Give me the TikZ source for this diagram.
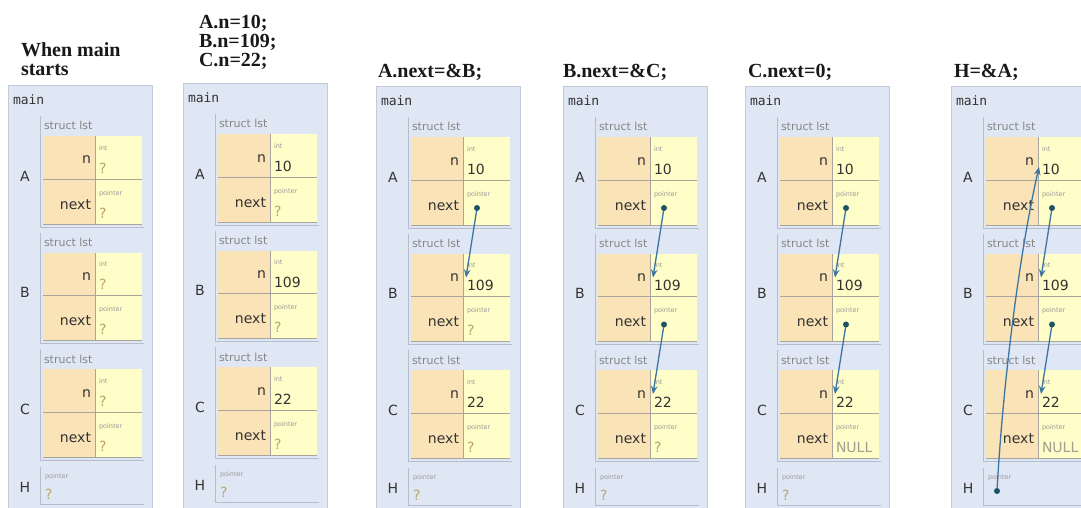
\documentclass[tikz,border=0pt]{standalone}
\usepackage{fontspec}
\setmainfont{Liberation Serif}
\newfontfamily\vsans{DejaVu Sans}
\newfontfamily\vmono{DejaVu Sans Mono}
\usetikzlibrary{arrows.meta}
\definecolor{mainbg}{HTML}{E0E7F4}
\definecolor{mainbd}{HTML}{C3CBDA}
\definecolor{structbd}{HTML}{B5BDCB}
\definecolor{namebg}{HTML}{FAE3B6}
\definecolor{valbg}{HTML}{FFFDC8}
\definecolor{cellbd}{HTML}{A8A69C}
\definecolor{txtdark}{HTML}{333333}
\definecolor{lblcol}{HTML}{858585}
\definecolor{typcol}{HTML}{9A9A9A}
\definecolor{qcol}{HTML}{B8A66C}
\definecolor{nullcol}{HTML}{A09F90}
\definecolor{arrcol}{HTML}{3C75A3}
\definecolor{dotcol}{HTML}{1E5366}
\newcommand{\qm}{\textcolor{qcol}{?}}
\newcommand{\nul}{\textcolor{nullcol}{NULL}}
\tikzset{
  boxbase/.style={inner sep=0pt, outer sep=0pt, line width=0.8pt},
  mainbox/.style={boxbase, draw=mainbd, fill=mainbg, minimum width=144pt, minimum height=440pt},
  structbox/.style={boxbase, minimum width=104pt, minimum height=111pt},
  hbox/.style={boxbase, minimum width=104pt, minimum height=37pt},
  boxline/.style={draw=structbd, line width=0.9pt},
  cellline/.style={draw=cellbd, line width=0.8pt},
  namecell/.style={boxbase, fill=namebg, minimum width=52pt, minimum height=43pt},
  valcell/.style={boxbase, fill=valbg, minimum width=47pt, minimum height=43pt},
  txt/.style={inner sep=0pt, outer sep=0pt},
  hdr/.style={txt, anchor=base west, font=\bfseries\fontsize{20}{20}\selectfont, text=black!90},
  monolbl/.style={txt, anchor=base west, font=\vmono\fontsize{13}{15}\selectfont, text=txtdark},
  lbl/.style={txt, anchor=base west, font=\vsans\fontsize{11}{13}\selectfont, text=lblcol},
  fld/.style={txt, anchor=base east, font=\vsans\fontsize{14}{16}\selectfont, text=txtdark},
  typ/.style={txt, anchor=base west, font=\vsans\fontsize{6.5}{8}\selectfont, text=typcol},
  val/.style={txt, anchor=base west, font=\vsans\fontsize{14}{16}\selectfont, text=txtdark},
  letter/.style={txt, anchor=base, font=\vsans\fontsize{14}{16}\selectfont, text=txtdark},
  ptr/.style={draw=arrcol, line width=1.3pt, -{Stealth[length=8pt,width=6.5pt]}},
  ptrdot/.style={circle, fill=dotcol, inner sep=0pt, minimum size=6pt},
}
% #1 id, #2 L, #3 T
\newcommand{\mymain}[3]{%
  \node[mainbox, anchor=north west] (#1) at (#2,#3) {};
  \node[monolbl] (#1-lbl) at (#2+5,#3+20) {main};
}
% #1 id, #2 L, #3 St, #4 letter, #5 n value, #6 next value
\newcommand{\mystruct}[6]{%
  \node[structbox, anchor=north west] (#1) at (#2+32,#3) {};
  \draw[boxline] (#1.north west) -- (#1.south west) -- (#1.south east);
  \node[lbl] (#1-lbl) at (#2+36,#3+14) {struct lst};
  \node[letter] (#1-let) at (#2+17,#3+65) {#4};
  \node[namecell, anchor=north west] (#1-nn) at (#2+35,#3+20) {};
  \node[valcell, anchor=north west] (#1-nv) at (#2+87,#3+20) {};
  \node[namecell, minimum height=45pt, anchor=north west] (#1-xn) at (#2+35,#3+63) {};
  \node[valcell, minimum height=45pt, anchor=north west] (#1-xv) at (#2+87,#3+63) {};
  \draw[cellline] (#1-nv.north west) -- (#1-xv.south west);
  \draw[cellline] (#1-nn.south west) -- (#1-nv.south east);
  \draw[cellline] (#1-xn.south west) -- (#1-xv.south east);
  \node[fld] (#1-nnt) at (#2+83,#3+48) {n};
  \node[fld] (#1-xnt) at (#2+83,#3+93) {next};
  \node[typ] (#1-nty) at (#2+91,#3+34) {int};
  \node[typ] (#1-xty) at (#2+91,#3+79) {pointer};
  \node[val] (#1-nval) at (#2+91,#3+57) {#5};
  \node[val] (#1-xval) at (#2+91,#3+102) {#6};
  \coordinate (#1-dot) at (#2+101,#3+91);
  \coordinate (#1-tip) at (#2+90,#3+44);
  \coordinate (#1-htip) at (#2+88,#3+50);
}
% #1 id, #2 L, #3 T, #4 value
\newcommand{\myhbox}[4]{%
  \node[hbox, anchor=north west] (#1) at (#2+32,#3+382) {};
  \draw[boxline] (#1.north west) -- (#1.south west) -- (#1.south east);
  \node[letter] (#1-let) at (#2+17,#3+407) {H};
  \node[typ] (#1-ty) at (#2+37,#3+393) {pointer};
  \node[val] (#1-val) at (#2+37,#3+414) {#4};
  \coordinate (#1-dot) at (#2+46,#3+405);
}
% #1 id, #2 L, #3 T, #4 An, #5 Anext, #6 Bn, #7 Bnext, #8 Cn, #9 Cnext
\newcommand{\mypanel}[9]{%
  \mymain{#1}{#2}{#3}
  \mystruct{#1a}{#2}{#3+31}{A}{#4}{#5}
  \mystruct{#1b}{#2}{#3+147.5}{B}{#6}{#7}
  \mystruct{#1c}{#2}{#3+264}{C}{#8}{#9}
}
\begin{document}
\begin{tikzpicture}[x=1pt,y=-1pt]
\useasboundingbox (0,0) rectangle (1081,508);
\clip (0,0) rectangle (1081,508);
\fill[white] (0,0) rectangle (1081,508);

% headers
\node[hdr] (h1a) at (21,57) {When main};
\node[hdr] (h1b) at (21,76) {starts};
\node[hdr] (h2a) at (199,29) {A.n=10;};
\node[hdr] (h2b) at (199,48) {B.n=109;};
\node[hdr] (h2c) at (199,67) {C.n=22;};
\node[hdr] (h3) at (378,78) {A.next=\&B;};
\node[hdr] (h4) at (563,78) {B.next=\&C;};
\node[hdr] (h5) at (748,78) {C.next=0;};
\node[hdr] (h6) at (954,78) {H=\&A;};

% panel 1
\mypanel{p1}{8}{85}{\qm}{\qm}{\qm}{\qm}{\qm}{\qm}
\myhbox{p1h}{8}{85}{\qm}
% panel 2
\mypanel{p2}{183}{83}{10}{\qm}{109}{\qm}{22}{\qm}
\myhbox{p2h}{183}{83}{\qm}
% panel 3
\mypanel{p3}{376}{86}{10}{}{109}{\qm}{22}{\qm}
\myhbox{p3h}{376}{86}{\qm}
\draw[ptr] (p3a-dot) -- (p3b-tip);
\node[ptrdot] (p3a-pd) at (p3a-dot) {};
% panel 4
\mypanel{p4}{563}{86}{10}{}{109}{}{22}{\qm}
\myhbox{p4h}{563}{86}{\qm}
\draw[ptr] (p4a-dot) -- (p4b-tip);
\node[ptrdot] (p4a-pd) at (p4a-dot) {};
\draw[ptr] (p4b-dot) -- (p4c-tip);
\node[ptrdot] (p4b-pd) at (p4b-dot) {};
% panel 5
\mypanel{p5}{745}{86}{10}{}{109}{}{22}{\nul}
\myhbox{p5h}{745}{86}{\qm}
\draw[ptr] (p5a-dot) -- (p5b-tip);
\node[ptrdot] (p5a-pd) at (p5a-dot) {};
\draw[ptr] (p5b-dot) -- (p5c-tip);
\node[ptrdot] (p5b-pd) at (p5b-dot) {};
% panel 6
\mypanel{p6}{951}{86}{10}{}{109}{}{22}{\nul}
\myhbox{p6h}{951}{86}{}
\draw[ptr] (p6a-dot) -- (p6b-tip);
\node[ptrdot] (p6a-pd) at (p6a-dot) {};
\draw[ptr] (p6b-dot) -- (p6c-tip);
\node[ptrdot] (p6b-pd) at (p6b-dot) {};
\draw[ptr] (p6h-dot) .. controls +(6,-111) and +(-19,83) .. (p6a-htip);
\node[ptrdot] (p6h-pd) at (p6h-dot) {};
\end{tikzpicture}
\end{document}
